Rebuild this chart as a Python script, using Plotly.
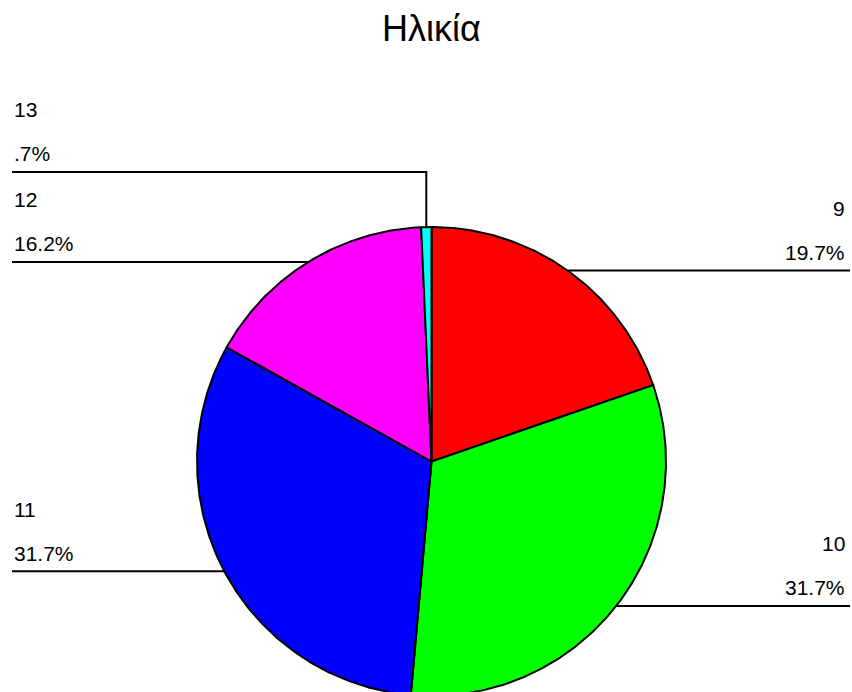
import numpy as np
import plotly.graph_objects as go

# ---- data ----
title_text = "Ηλικία"
categories = ["9", "10", "11", "12", "13"]
counts = [28, 45, 45, 23, 1]
colors = ["#FF0000", "#00FF00", "#0000FF", "#FF00FF", "#00FFFF"]

# ---- layout constants (page pixel space) ----
PAGE_W, PAGE_H = 852, 692
CX, CY, R = 431.5, 461.5, 234.5
LEFT_X, RIGHT_X = 12, 850
CAT_OFF, PCT_OFF = 62, 18
MIN_GAP = 90
FONT = "Liberation Sans, Arial, sans-serif"

total = float(sum(counts))
fracs = [c / total for c in counts]


def fmt_pct(f):
    s = f"{f * 100:.1f}%"
    if s.startswith("0."):
        s = s[1:]
    return s


def pt(deg, r=R):
    t = np.radians(deg)
    return CX + r * np.sin(t), CY - r * np.cos(t)


fig = go.Figure()

# slices
start = 0.0
mids = []
for cat, f, col in zip(categories, fracs, colors):
    end = start + f * 360.0
    angs = np.linspace(start, end, max(3, int(abs(end - start) * 2) + 2))
    xs = [CX] + [pt(a)[0] for a in angs] + [CX]
    ys = [CY] + [pt(a)[1] for a in angs] + [CY]
    fig.add_trace(go.Scatter(x=xs, y=ys, mode="lines", fill="toself",
                             fillcolor=col, line=dict(color="black", width=2),
                             hoverinfo="skip", showlegend=False))
    mids.append((start + end) / 2.0)
    start = end

# label positions with simple overlap resolution per side
info = []
for i, m in enumerate(mids):
    mx, my = pt(m)
    side = "right" if m < 180 else "left"
    info.append(dict(i=i, mx=mx, my=my, side=side, ly=my))

for side in ("left", "right"):
    items = sorted([d for d in info if d["side"] == side], key=lambda d: -d["my"])
    prev = None
    for d in items:
        if prev is not None and d["ly"] > prev - MIN_GAP:
            d["ly"] = prev - MIN_GAP
        prev = d["ly"]

for d in info:
    i = d["i"]
    xe = LEFT_X if d["side"] == "left" else RIGHT_X
    fig.add_trace(go.Scatter(x=[d["mx"], d["mx"], xe], y=[d["my"], d["ly"], d["ly"]],
                             mode="lines", line=dict(color="black", width=2),
                             hoverinfo="skip", showlegend=False))
    xa = "left" if d["side"] == "left" else "right"
    tx = LEFT_X if d["side"] == "left" else RIGHT_X - 3
    fig.add_annotation(x=tx, y=d["ly"] - CAT_OFF, text=categories[i], showarrow=False,
                       xanchor=xa, yanchor="middle",
                       font=dict(family=FONT, size=21, color="black"))
    fig.add_annotation(x=tx, y=d["ly"] - PCT_OFF, text=fmt_pct(fracs[i]), showarrow=False,
                       xanchor=xa, yanchor="middle",
                       font=dict(family=FONT, size=21, color="black"))

fig.add_annotation(x=CX, y=28, text=title_text, showarrow=False, xanchor="center",
                   yanchor="middle", font=dict(family=FONT, size=36, color="black"))

fig.update_layout(
    width=PAGE_W, height=PAGE_H,
    margin=dict(l=0, r=0, t=0, b=0),
    paper_bgcolor="white", plot_bgcolor="white",
    showlegend=False,
    xaxis=dict(range=[0, PAGE_W], visible=False, fixedrange=True),
    yaxis=dict(range=[PAGE_H, 0], visible=False, fixedrange=True),
)

fig.write_html(
    "out.html",
    config={"displayModeBar": False},
    post_script="document.body.style.margin='0';document.body.style.overflow='hidden';",
)
